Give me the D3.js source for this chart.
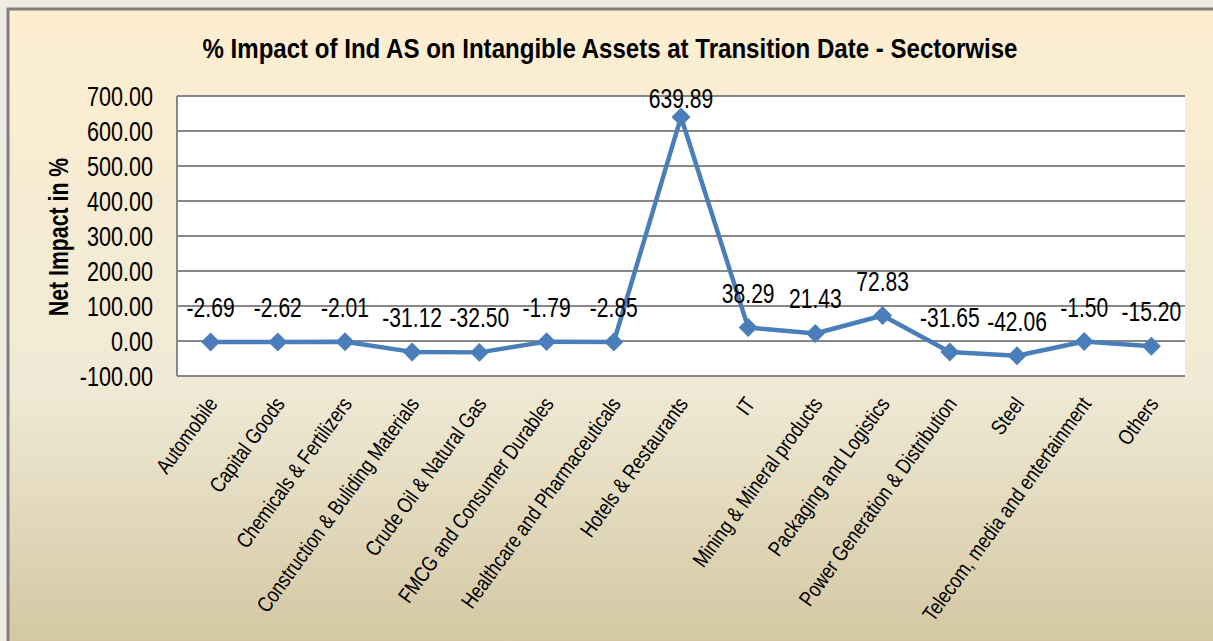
<!DOCTYPE html>
<html><head><meta charset="utf-8">
<script src="https://cdn.jsdelivr.net/npm/d3@7"></script>
<style>
html,body{margin:0;padding:0;background:#eeece3;}
svg{display:block;font-family:"Liberation Sans",Arial,sans-serif;}
</style></head>
<body>
<svg id="chart" width="1213" height="641"></svg>
<script>
const categories = ["Automobile","Capital Goods","Chemicals & Fertilizers","Construction & Buliding Materials","Crude Oil & Natural Gas","FMCG and Consumer Durables","Healthcare and Pharmaceuticals","Hotels & Restaurants","IT","Mining & Mineral products","Packaging and Logistics","Power Generation & Distribution","Steel","Telecom, media and entertainment","Others"];
const values = [-2.69,-2.62,-2.01,-31.12,-32.50,-1.79,-2.85,639.89,38.29,21.43,72.83,-31.65,-42.06,-1.50,-15.20];
const yTicks = [-100,0,100,200,300,400,500,600,700];
const title = "% Impact of Ind AS on Intangible Assets at Transition Date - Sectorwise";
const yTitle = "Net Impact in %";

const svg = d3.select("#chart");
const defs = svg.append("defs");
const grad = defs.append("linearGradient").attr("id","bg").attr("x1",0).attr("y1",0).attr("x2",0).attr("y2",1);
grad.append("stop").attr("offset","0%").attr("stop-color","#fdeed0");
grad.append("stop").attr("offset","58%").attr("stop-color","#f0ead6");
grad.append("stop").attr("offset","100%").attr("stop-color","#d2c59f");

svg.append("rect").attr("x",8).attr("y",9).attr("width",1240).attr("height",650)
  .attr("fill","url(#bg)").attr("stroke","#7f7f7f").attr("stroke-width",3);

const L=177,R=1185,T=96,B=376;
const x = d3.scaleBand().domain(categories).range([L,R]);
const y = d3.scaleLinear().domain([-100,700]).range([B,T]);

svg.append("rect").attr("x",L).attr("y",T).attr("width",R-L).attr("height",B-T).attr("fill","#ffffff");

// gridlines
svg.append("g").selectAll("line").data(yTicks).join("line")
  .attr("x1",L).attr("x2",R).attr("y1",d=>y(d)).attr("y2",d=>y(d))
  .attr("stroke","#878787").attr("stroke-width",2);
svg.append("line").attr("x1",L).attr("x2",L).attr("y1",T).attr("y2",B)
  .attr("stroke","#878787").attr("stroke-width",2);

// y tick labels
svg.append("g").selectAll("text").data(yTicks).join("text")
  .attr("transform",d=>`translate(153,${y(d)+10}) scale(0.8,1)`)
  .attr("text-anchor","end").attr("font-size",27).attr("fill","#000")
  .text(d=>d.toFixed(2));

// title
svg.append("text").attr("x",610).attr("y",58).attr("text-anchor","middle")
  .attr("font-size",28).attr("font-weight","bold")
  .attr("textLength",815).attr("lengthAdjust","spacingAndGlyphs").text(title);

// y title
svg.append("text").attr("transform","translate(68,237) rotate(-90) scale(0.76,1)")
  .attr("text-anchor","middle").attr("font-size",28).attr("font-weight","bold").text(yTitle);

// category labels
svg.append("g").selectAll("text").data(categories).join("text")
  .attr("transform",d=>`translate(${x(d)+x.bandwidth()/2+8},404) rotate(-54) scale(0.82,1)`)
  .attr("text-anchor","end").attr("font-size",21.5).attr("fill","#000").text(d=>d);

// line
const cx = d=>x(d)+x.bandwidth()/2;
const pts = categories.map((c,i)=>[cx(c), y(values[i])]);
svg.append("path").datum(pts).attr("d",d3.line())
  .attr("fill","none").attr("stroke","#4a7ebb").attr("stroke-width",4.5).attr("stroke-linejoin","round");

const sym = d3.symbol().type(d3.symbolSquare).size(180);
svg.append("g").selectAll("path").data(pts).join("path")
  .attr("d",sym).attr("transform",d=>`translate(${d[0]},${d[1]}) rotate(45)`)
  .attr("fill","#4a7ebb");

// data labels
svg.append("g").selectAll("text").data(values).join("text")
  .attr("transform",(d,i)=>`translate(${cx(categories[i])},${Math.max(y(d)-25, y(700)+12)}) scale(0.78,1)`)
  .attr("text-anchor","middle").attr("font-size",27).attr("fill","#000")
  .text(d=>d.toFixed(2));
</script>
</body></html>
